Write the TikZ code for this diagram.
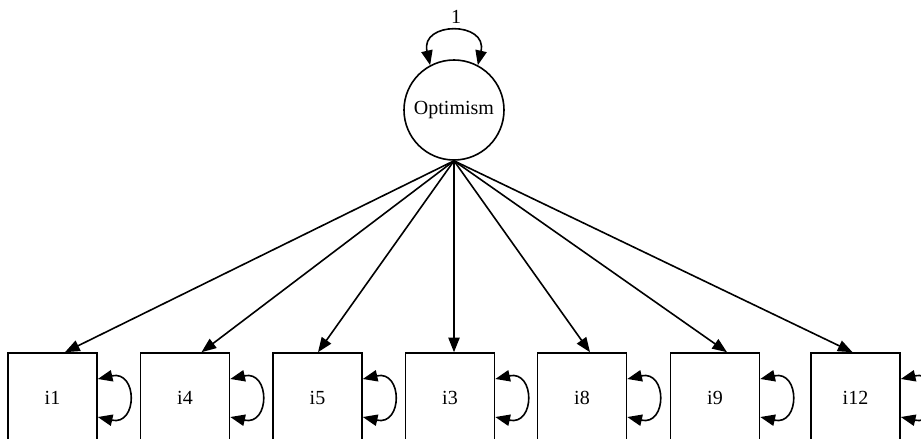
\documentclass[tikz,border=0pt]{standalone}
\usepackage{fontspec}
\setmainfont{Liberation Serif}
\usetikzlibrary{arrows.meta,calc}
\begin{document}
\begin{tikzpicture}[x=0.75pt,y=-0.75pt,
  every node/.style={font=\fontsize{15}{18}\selectfont},
  latent/.style={draw,circle,line width=1.2pt,minimum size=75pt,inner sep=0pt},
  manifest/.style={draw,rectangle,line width=1.2pt,minimum width=66.75pt,minimum height=67.5pt,inner sep=0pt},
  arr/.style={line width=1.2pt,-{Triangle[length=11pt,width=8.5pt]}},
  dbl/.style={line width=1.2pt,{Triangle[length=11pt,width=8.5pt]}-{Triangle[length=11pt,width=8.5pt]}}]
\useasboundingbox (0,0) rectangle (921,439);
\clip (0,0) rectangle (921,439);
\node[latent] (opt) at (454,110) {Optimism};
\node (one) at (456,17) {1};
\node[manifest] (b1) at (52.5,398) {i1};
\node[manifest] (b4) at (185,398) {i4};
\node[manifest] (b5) at (317.5,398) {i5};
\node[manifest] (b3) at (450,398) {i3};
\node[manifest] (b8) at (582,398) {i8};
\node[manifest] (b9) at (715,398) {i9};
\node[manifest] (b12) at (855.5,398) {i12};
% variance loop on latent
\draw[dbl] (opt.118) .. controls ($(opt.118)+(-10,-44)$) and ($(opt.62)+(10,-44)$) .. (opt.62);
% loadings
\draw[arr] (opt.south) -- ($(b1.north)+(12.5,0)$);
\draw[arr] (opt.south) -- ($(b4.north)+(16.5,0)$);
\draw[arr] (opt.south) -- ($(b5.north)+(0.5,0)$);
\draw[arr] (opt.south) -- ($(b3.north)+(4,0)$);
\draw[arr] (opt.south) -- ($(b8.north)+(8,0)$);
\draw[arr] (opt.south) -- ($(b9.north)+(12,0)$);
\draw[arr] (opt.south) -- ($(b12.north)+(-3,0)$);
% residual variances
\foreach \b in {b1,b4,b5,b3,b8,b9,b12}{
  \draw[dbl] ($(\b.east)+(0,-19)$) .. controls ($(\b.east)+(40,-28)$) and ($(\b.east)+(40,28)$) .. ($(\b.east)+(0,19)$);
}
\end{tikzpicture}
\end{document}
